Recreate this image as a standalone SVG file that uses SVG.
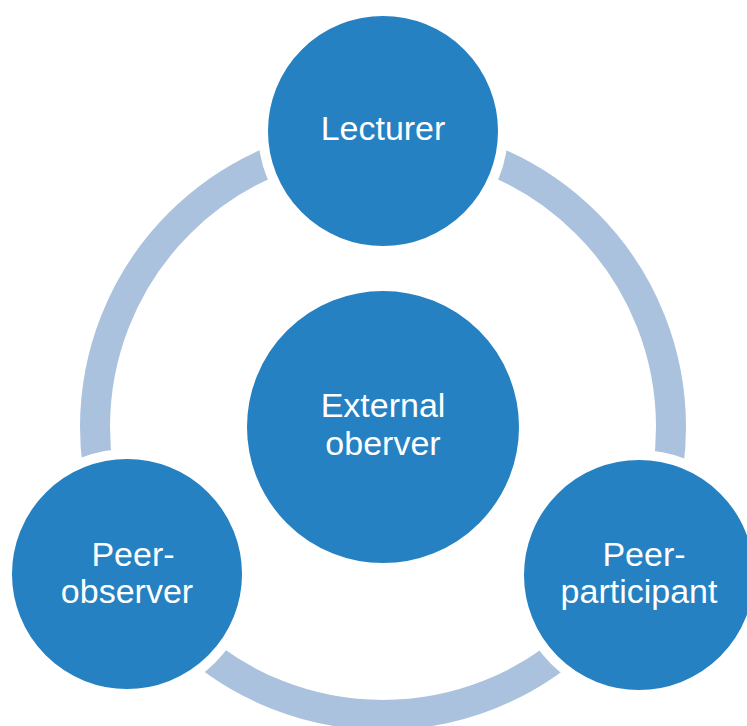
<svg xmlns="http://www.w3.org/2000/svg" width="747" height="726" viewBox="0 0 747 726">
<style>
.node{fill:#2581C1;stroke:#FFFFFF;stroke-width:10}
.ring{fill:none;stroke:#ABC2DE;stroke-width:30}
.lbl{font-family:"Liberation Sans",Arial,sans-serif;font-size:34px;fill:#FFFFFF;text-anchor:middle}
</style>
<rect width="747" height="726" fill="#FFFFFF"/>
<g id="connectors">
<circle class="ring" cx="383" cy="427" r="288"/>
</g>
<g id="lecturer">
<circle class="node" cx="383" cy="131" r="120"/>
<text class="lbl" x="383" y="140">Lecturer</text>
</g>
<g id="external-observer">
<circle class="node" cx="383" cy="427" r="141"/>
<text class="lbl" x="383" y="417">External</text>
<text class="lbl" x="383" y="455">oberver</text>
</g>
<g id="peer-observer">
<circle class="node" cx="127" cy="574" r="120"/>
<text class="lbl" x="133" y="566">Peer-</text>
<text class="lbl" x="127" y="603">observer</text>
</g>
<g id="peer-participant">
<circle class="node" cx="639" cy="575" r="120"/>
<text class="lbl" x="644" y="566">Peer-</text>
<text class="lbl" x="639" y="603">participant</text>
</g>
</svg>
